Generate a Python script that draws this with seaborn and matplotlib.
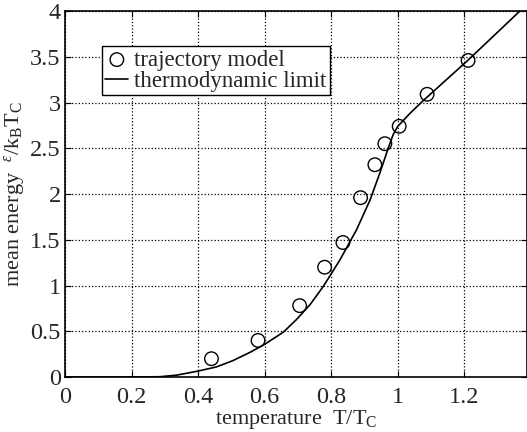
import matplotlib
matplotlib.use('Agg')
import matplotlib.pyplot as plt
import seaborn as sns
import pandas as pd

# values
T_traj = [0.44, 0.58, 0.705, 0.78, 0.835, 0.888, 0.931, 0.961, 1.004, 1.088, 1.211]
E_traj = [0.20, 0.40, 0.78, 1.20, 1.47, 1.96, 2.32, 2.55, 2.74, 3.09, 3.46]

T_thermo = [0.0, 0.2, 0.285, 0.335, 0.40, 0.455, 0.505, 0.556, 0.601, 0.656, 0.696, 0.736,
            0.776, 0.826, 0.876, 0.916, 0.946, 0.971, 0.986, 1.0, 1.036, 1.076, 1.21, 1.3, 1.39]
E_thermo = [0.0, 0.0, 0.003, 0.02, 0.065, 0.11, 0.18, 0.27, 0.36, 0.49, 0.63, 0.79,
            0.99, 1.28, 1.61, 1.93, 2.23, 2.50, 2.65, 2.74, 2.88, 3.02, 3.46, 3.77, 4.08]

x_ticks = [0, 0.2, 0.4, 0.6, 0.8, 1.0, 1.2]
x_labels = ['0', '0.2', '0.4', '0.6', '0.8', '1', '1.2']
y_ticks = [0, 0.5, 1, 1.5, 2, 2.5, 3, 3.5, 4]
y_labels = ['0', '0.5', '1', '1.5', '2', '2.5', '3', '3.5', '4']

traj = pd.DataFrame({'T': T_traj, 'E': E_traj})
thermo = pd.DataFrame({'T': T_thermo, 'E': E_thermo})

sns.set_style('ticks')
plt.rcParams['font.family'] = ['Liberation Serif', 'DejaVu Serif']
plt.rcParams['mathtext.fontset'] = 'custom'
plt.rcParams['mathtext.rm'] = 'Liberation Serif'
plt.rcParams['mathtext.it'] = 'Liberation Serif:italic'

fig = plt.figure(figsize=(5.27, 4.32), dpi=100)
ax = fig.add_axes([0.1233, 0.1273, 0.8767, 0.8472])

sns.scatterplot(x='T', y='E', data=traj, ax=ax, marker='o', s=95,
                facecolor='none', edgecolor='black', linewidth=1.0,
                label='trajectory model', zorder=3)
sns.lineplot(x='T', y='E', data=thermo, ax=ax, color='black', linewidth=1.2,
             sort=False, estimator=None, label='thermodynamic limit')

ax.set_xlim(0, 1.388)
ax.set_ylim(0, 4)
ax.set_xticks(x_ticks)
ax.set_xticklabels(x_labels)
ax.set_yticks(y_ticks)
ax.set_yticklabels(y_labels)
ax.tick_params(direction='in', top=True, right=True, labelsize=17.5, length=4,
               width=0.8, color='black')
ax.tick_params(axis='x', pad=7)
ax.tick_params(axis='y', pad=3)
ax.grid(True, linestyle=':', color='black', linewidth=0.9)
for s in ax.spines.values():
    s.set_linewidth(1.2)
    s.set_color('black')
    s.set_visible(True)

ax.set_xlabel(r'temperature  T/T$_{\rm C}$', fontsize=16, labelpad=0)
ax.set_ylabel(r'mean energy  $^{\varepsilon}$/k$_{\rm B}$T$_{\rm C}$', fontsize=16, labelpad=2)

leg = ax.legend(loc='upper left', bbox_to_anchor=(0.08, 0.904), borderaxespad=0,
                fontsize=16.5, frameon=True, fancybox=False, handlelength=1.0,
                handletextpad=0.25, labelspacing=0.0, borderpad=0.15)
leg.get_frame().set_edgecolor('black')
leg.get_frame().set_linewidth(1.0)
leg.get_frame().set_alpha(1)

fig.savefig('out.png', dpi=100)
